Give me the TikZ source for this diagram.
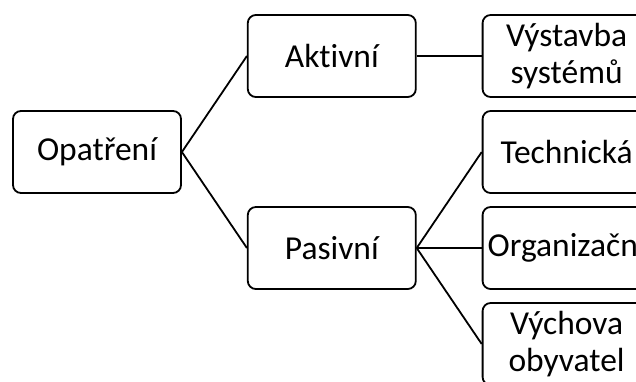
\documentclass[tikz,border=0pt]{standalone}
\usepackage{fontspec}
\setmainfont[Ligatures=NoCommon]{Carlito}
\usetikzlibrary{positioning}

\tikzset{
  box/.style={draw,rounded corners=8pt,minimum width=168pt,minimum height=82pt,
    align=center,inner sep=3pt,font=\fontsize{33.5}{37}\selectfont}
}

\begin{document}
\begin{tikzpicture}[x=1pt,y=-1pt,line width=1.8pt,node distance=65pt]

      \useasboundingbox (0,0) rectangle (636,381);
      \clip (0,0) rectangle (636,381);

      \node[box] (opatreni) at (97,152) {Opatření};
      \node[box] (aktivni) [right=of opatreni,yshift=96pt] {Aktivní};
      \node[box] (pasivni) [right=of opatreni,yshift=-96pt] {Pasivní};
      \node[box] (vystavba) [right=of aktivni] {Výstavba\\systémů};
      \node[box] (technicka) [right=of pasivni,yshift=96pt] {Technická};
      \node[box] (organizacni) [right=of pasivni] {Organizační};
      \node[box] (vychova) [right=of pasivni,yshift=-96pt] {Výchova\\obyvatel};

      \path[draw]
        (opatreni.east) edge (aktivni.west)
        (opatreni.east) edge (pasivni.west)
        (aktivni.east) edge (vystavba.west)
        (pasivni.east) edge (technicka.west)
        (pasivni.east) edge (organizacni.west)
        (pasivni.east) edge (vychova.west);
    \end{tikzpicture}
\end{document}
